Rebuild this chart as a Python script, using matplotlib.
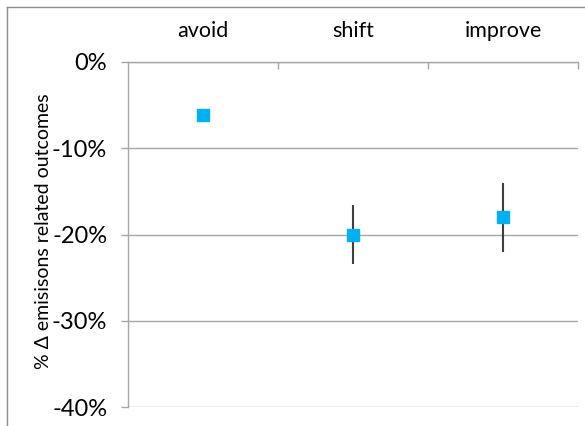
import matplotlib.pyplot as plt
from matplotlib.lines import Line2D

categories = ["avoid", "shift", "improve"]
change_pct = [-6.1, -20.0, -18.0]
err_pct = [0.0, 3.4, 4.0]
y_ticks = [0, -10, -20, -30, -40]

plt.rcParams["font.family"] = ["Lato", "DejaVu Sans"]
plt.rcParams["axes.unicode_minus"] = False

W, H = 585, 426
fig = plt.figure(figsize=(W / 100, H / 100), dpi=100)
ax = fig.add_axes([128 / W, 1 - 407 / H, 450 / W, 345 / H])

grid_c = "#a6a6a6"
x = list(range(len(categories)))
for xi, yi, ei in zip(x, change_pct, err_pct):
    if ei > 0:
        ax.errorbar(xi, yi, yerr=ei, fmt="none", ecolor="#3f3f3f", elinewidth=1.5, capsize=0, zorder=3)
ax.plot(x, change_pct, ls="none", marker="s", ms=8.5, color="#00b0f0", zorder=4)

ax.set_xlim(-0.5, 2.5)
ax.set_ylim(-40, 0)
ax.set_yticks(y_ticks)
ax.set_yticklabels([f"{v}%" for v in y_ticks], fontsize=17)
ax.yaxis.grid(True, color=grid_c, lw=1)
ax.set_axisbelow(True)

ax.xaxis.tick_top()
ax.set_xticks(x)
ax.set_xticklabels(categories, fontsize=15.5)
ax.set_xticks([0.5, 1.5, 2.5], minor=True)
ax.tick_params(axis="x", which="major", length=0, pad=15)
ax.tick_params(axis="x", which="minor", direction="in", length=5, color=grid_c, width=1)
ax.tick_params(axis="y", length=5, color=grid_c, width=1, pad=10)

for side in ("right", "bottom"):
    ax.spines[side].set_visible(False)
for side in ("left", "top"):
    ax.spines[side].set_color(grid_c)
    ax.spines[side].set_linewidth(1)

fig.text(44 / W, 1 - 231 / H, "% Δ emisisons related outcomes", rotation=90,
         ha="center", va="center", fontsize=14)

# outer chart border (top and left edges visible)
fig.add_artist(Line2D([7 / W, 1], [1 - 7 / H, 1 - 7 / H], color="#8c8c8c", lw=1))
fig.add_artist(Line2D([7 / W, 7 / W], [0, 1 - 7 / H], color="#8c8c8c", lw=1))

fig.savefig("out.png", dpi=100)
